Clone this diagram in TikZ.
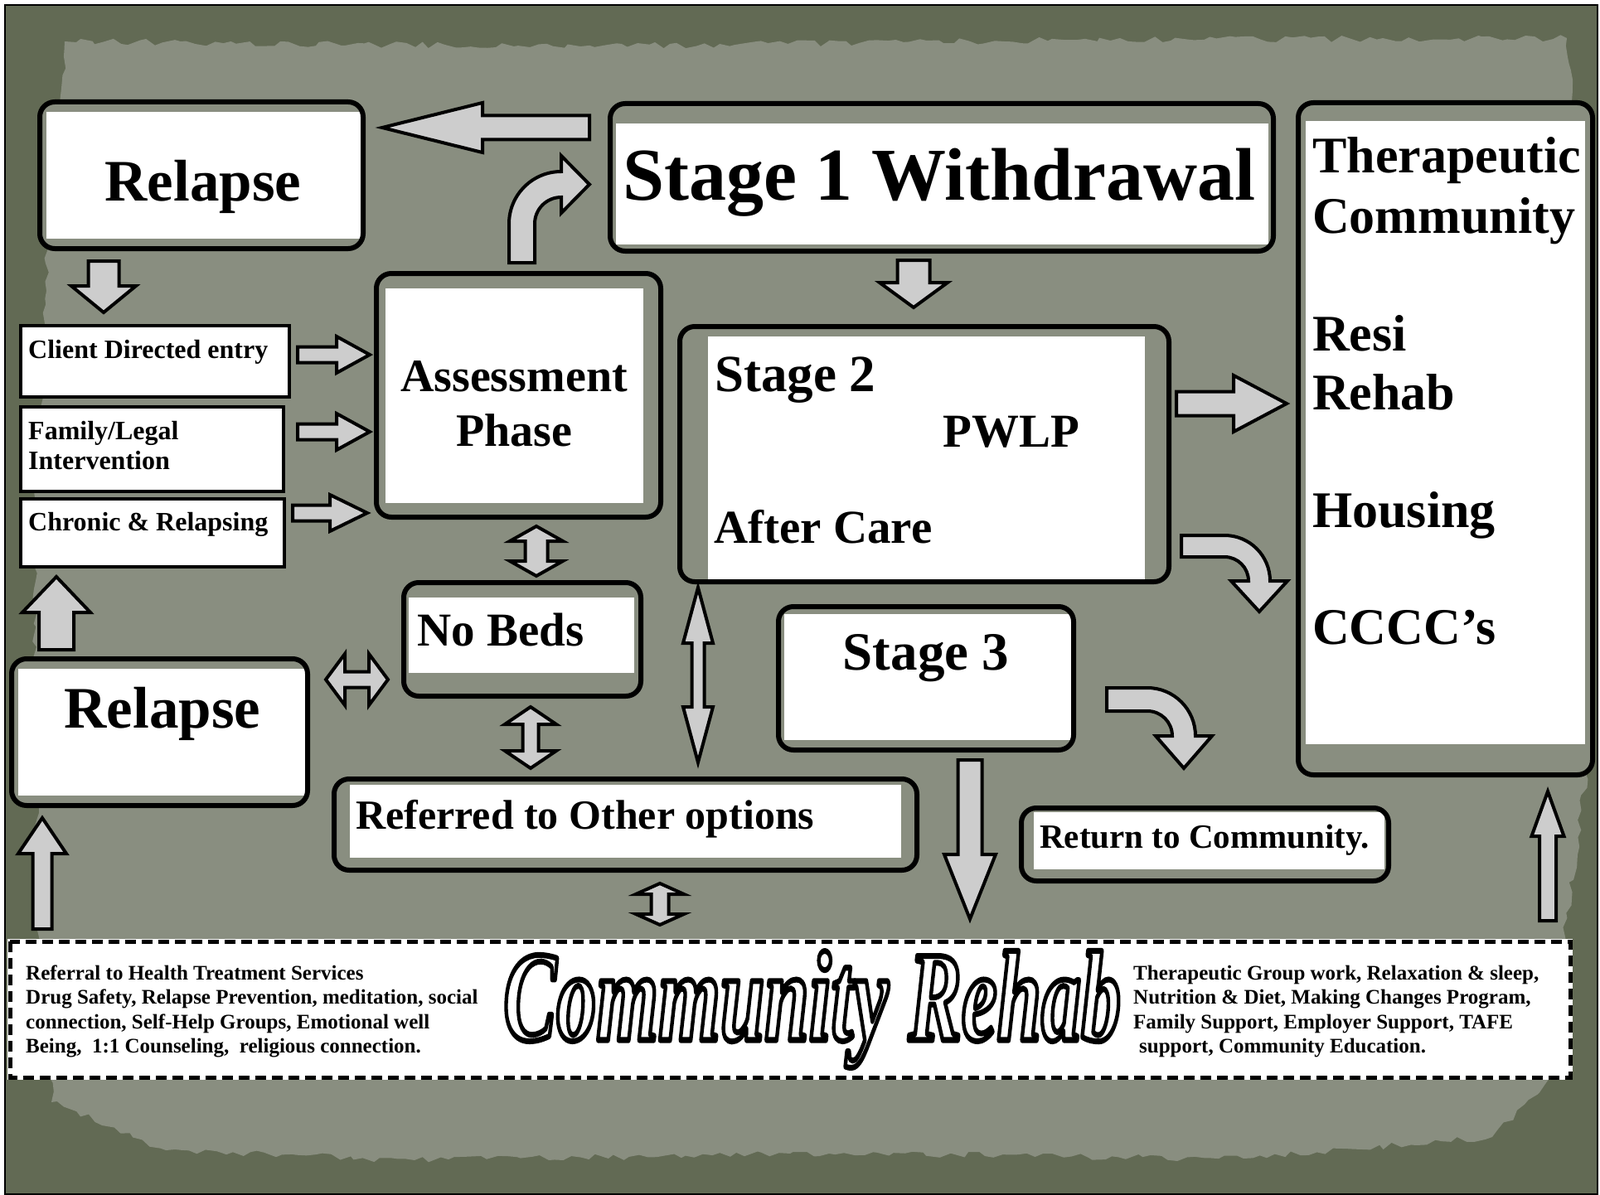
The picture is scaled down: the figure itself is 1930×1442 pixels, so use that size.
\documentclass[tikz,border=0pt]{standalone}
\usepackage{fontspec}
\setmainfont{Liberation Serif}
\usetikzlibrary{calc,decorations.pathmorphing}

\definecolor{edgeolive}{RGB}{98,106,84}
\definecolor{paper}{RGB}{137,142,128}
\definecolor{arrowgray}{RGB}{205,205,205}

\tikzset{
  boxline/.style={draw=black, line width=6pt, rounded corners=18pt},
  entrybox/.style={draw=black, line width=4.5pt, fill=white},
  fatarrow/.style={draw=black, line width=4pt, fill=arrowgray, line join=miter},
  lbl/.style={inner sep=0pt, font=\bfseries},
}

\newcommand{\fsize}[1]{\fontsize{#1}{#1}\selectfont}

% white letters with a black rim (fill and stroke text mode)
\newcommand{\rimtext}[1]{%
  {\color{white}\special{pdf:literal direct 0 0 0 RG 7 w 1 j 2 Tr}#1\special{pdf:literal direct 0 Tr}}}

% rounded panel: outer corners, white inner corners
\newcommand{\panel}[4]{%
  \fill[paper, rounded corners=18pt] (#1) rectangle (#2);
  \fill[white] (#3) rectangle (#4);
  \draw[boxline] (#1) rectangle (#2);}

% block arrow: tail, tip, shaft half, head half, head length
\newcommand{\blockarrow}[5]{%
  \draw[fatarrow] ($(#1)!#3pt!90:(#2)$)
    -- ($($(#2)!#5pt!(#1)$)!#3pt!-90:(#1)$)
    -- ($($(#2)!#5pt!(#1)$)!#4pt!-90:(#1)$)
    -- (#2)
    -- ($($(#2)!#5pt!(#1)$)!#4pt!90:(#1)$)
    -- ($($(#2)!#5pt!(#1)$)!#3pt!90:(#1)$)
    -- ($(#1)!#3pt!-90:(#2)$) -- cycle;}

% double block arrow: tip, tip, shaft half, head half, head length
\newcommand{\dblarrow}[5]{%
  \draw[fatarrow] (#1)
    -- ($($(#1)!#5pt!(#2)$)!#4pt!90:(#2)$)
    -- ($($(#1)!#5pt!(#2)$)!#3pt!90:(#2)$)
    -- ($($(#2)!#5pt!(#1)$)!#3pt!-90:(#1)$)
    -- ($($(#2)!#5pt!(#1)$)!#4pt!-90:(#1)$)
    -- (#2)
    -- ($($(#2)!#5pt!(#1)$)!#4pt!90:(#1)$)
    -- ($($(#2)!#5pt!(#1)$)!#3pt!90:(#1)$)
    -- ($($(#1)!#5pt!(#2)$)!#3pt!-90:(#2)$)
    -- ($($(#1)!#5pt!(#2)$)!#4pt!-90:(#2)$) -- cycle;}

\begin{document}
\begin{tikzpicture}[x=1pt, y=-1pt]
  \useasboundingbox (0,0) rectangle (1930,1442);

  % the torn paper background
  \fill[white] (0,0) rectangle (1930,1442);
  \filldraw[fill=edgeolive, draw=black, line width=1.5pt] (6,6) rectangle (1927,1441);
  \fill[paper, decorate, decoration={random steps, segment length=10pt, amplitude=4pt}]
    (78,50) -- (700,56) -- (1300,48) -- (1890,46) -- (1912,300) -- (1918,900)
    -- (1885,1150) -- (1872,1300) -- (1800,1372) -- (1500,1398) -- (1000,1392)
    -- (500,1400) -- (200,1388) -- (62,1330) -- (45,1100) -- (42,600) -- (58,300) -- cycle;

  % panels
  \panel{48,123}{438,300}{56,135}{436,288}
  \panel{736,125}{1536,303}{743,149}{1530,295}
  \panel{454,330}{797,624}{465,348}{776,607}
  \panel{820,394}{1410,702}{854,406}{1381,699}
  \panel{1566,124}{1921,935}{1575,146}{1912,898}
  \panel{487,703}{773,840}{493,721}{765,812}
  \panel{14,795}{371,972}{22,807}{368,960}
  \panel{939,732}{1295,905}{946,741}{1292,893}
  \panel{403,940}{1106,1050}{422,947}{1087,1035}
  \panel{1232,975}{1675,1063}{1247,980}{1670,1049}

  % entry boxes
  \draw[entrybox] (25,393) rectangle (349,479);
  \draw[entrybox] (25,491) rectangle (342,593);
  \draw[entrybox] (25,602) rectangle (343,684);

  % arrow ends
  \coordinate (s1-tail) at (711,154);      \coordinate (rel1-tip) at (461,154);
  \coordinate (rel1-tail) at (125,315);    \coordinate (entry-tip) at (125,377);
  \coordinate (client-tail) at (359,428);  \coordinate (client-tip) at (446,428);
  \coordinate (family-tail) at (359,521);  \coordinate (family-tip) at (446,521);
  \coordinate (chronic-tail) at (353,619); \coordinate (chronic-tip) at (443,619);
  \coordinate (rel2-tail) at (68,784);     \coordinate (rel2-tip) at (68,696);
  \coordinate (rel2-l) at (393,820);       \coordinate (beds-l) at (468,820);
  \coordinate (assess-b) at (647,635);     \coordinate (beds-t) at (647,695);
  \coordinate (beds-b) at (640,853);       \coordinate (ref-t) at (640,927);
  \coordinate (stage2-b) at (842,709);     \coordinate (ref-t2) at (842,920);
  \coordinate (ref-b) at (796,1066);       \coordinate (banner-t) at (796,1116);
  \coordinate (s1-b) at (1102,314);        \coordinate (s2-t) at (1102,371);
  \coordinate (s2-r) at (1419,487);        \coordinate (tc-l) at (1552,487);
  \coordinate (s3-b) at (1170,917);        \coordinate (banner-s3) at (1170,1109);
  \coordinate (banner-tc) at (1867,1111);  \coordinate (tc-b) at (1867,955);
  \coordinate (banner-rel) at (51,1121);   \coordinate (rel2-b) at (51,987);

  % straight arrows
  \blockarrow{s1-tail}{rel1-tip}{14.5}{30}{121}
  \blockarrow{rel1-tail}{entry-tip}{18.5}{39}{32}
  \blockarrow{client-tail}{client-tip}{9.5}{22}{40}
  \blockarrow{family-tail}{family-tip}{9.5}{22}{40}
  \blockarrow{chronic-tail}{chronic-tip}{9.5}{22}{45}
  \blockarrow{rel2-tail}{rel2-tip}{21}{41}{43}
  \dblarrow{rel2-l}{beds-l}{9.5}{31}{23}
  \dblarrow{assess-b}{beds-t}{13.5}{32}{18}
  \dblarrow{beds-b}{ref-t}{9.5}{31}{21}
  \dblarrow{stage2-b}{ref-t2}{7.5}{18}{67}
  \dblarrow{ref-b}{banner-t}{10.5}{29}{13}
  \blockarrow{s1-b}{s2-t}{19.5}{41}{30}
  \blockarrow{s2-r}{tc-l}{14.5}{34}{64}
  \blockarrow{s3-b}{banner-s3}{14.5}{31}{78}
  \blockarrow{banner-tc}{tc-b}{10}{19.5}{54}
  \blockarrow{banner-rel}{rel2-b}{11.5}{29}{43}

  % bent arrows
  \draw[fatarrow] (614,317) -- (614,270) .. controls (614,235.2) and (642.2,207) .. (677,207)
    -- (677,188) -- (711,222.5) -- (677,257) -- (677,238)
    .. controls (659.3,238) and (645,252.3) .. (645,270) -- (645,317) -- cycle;
  \draw[fatarrow] (1425,646) -- (1477,646) .. controls (1507.4,646) and (1532,670.6) .. (1532,701)
    -- (1553,701) -- (1519,738) -- (1485,701) -- (1506,701)
    .. controls (1506,685) and (1493,672) .. (1477,672) -- (1425,672) -- cycle;
  \draw[fatarrow] (1335,830) -- (1384,830) .. controls (1416,830) and (1442,856) .. (1442,888)
    -- (1462,888) -- (1428,927) -- (1394,888) -- (1414,888)
    .. controls (1414,871.4) and (1400.6,858) .. (1384,858) -- (1335,858) -- cycle;

  % labels
  \node[lbl, anchor=base] (relapseA) at (245,242) {\fsize{71}Relapse};
  \node[lbl, anchor=base west] (stage1) at (751,241) {\fsize{90}Stage 1 Withdrawal};
  \node[lbl, anchor=base west] (client) at (34,432) {\fsize{32}Client Directed entry};
  \node[lbl, anchor=base west] (familyA) at (34,530) {\fsize{32}Family/Legal};
  \node[lbl, anchor=base west] (familyB) at (34,566) {\fsize{32}Intervention};
  \node[lbl, anchor=base west] (chronic) at (34,640) {\fsize{32}Chronic \& Relapsing};
  \node[lbl, anchor=base] (assessA) at (620,472) {\fsize{56}Assessment};
  \node[lbl, anchor=base] (assessB) at (620,538) {\fsize{56}Phase};
  \node[lbl, anchor=base west] (stage2) at (862,472) {\fsize{63}Stage 2};
  \node[lbl, anchor=base west] (pwlp) at (1137,539) {\fsize{57}PWLP};
  \node[lbl, anchor=base west] (aftercare) at (861,655) {\fsize{57}After Care};
  \node[lbl, anchor=base] (stage3) at (1117,808) {\fsize{65}Stage 3};
  \node[lbl, anchor=base west] (nobeds) at (503,779) {\fsize{57}No Beds};
  \node[lbl, anchor=base] (relapseB) at (196,878) {\fsize{71}Relapse};
  \node[lbl, anchor=base west] (referred) at (429,1000) {\fsize{50}Referred to Other options};
  \node[lbl, anchor=base west] (return) at (1254,1023) {\fsize{41}Return to Community.};
  \node[lbl, anchor=base west] (tcA) at (1583,209) {\fsize{62}Therapeutic};
  \node[lbl, anchor=base west] (tcB) at (1583,281) {\fsize{62}Community};
  \node[lbl, anchor=base west] (tcC) at (1583,423) {\fsize{62}Resi};
  \node[lbl, anchor=base west] (tcD) at (1583,494) {\fsize{62}Rehab};
  \node[lbl, anchor=base west] (tcE) at (1583,636) {\fsize{62}Housing};
  \node[lbl, anchor=base west] (tcF) at (1583,777) {\fsize{62}CCCC’s};

  % banner
  \fill[white] (9,1133) rectangle (1897,1303);
  \draw[black, line width=5pt, dash pattern=on 13pt off 7pt] (12,1136) rectangle (1894,1300);
  \node[lbl, anchor=base west] (svcA) at (31,1182) {\fsize{25}Referral to Health Treatment Services};
  \node[lbl, anchor=base west] (svcB) at (31,1211) {\fsize{25}Drug Safety, Relapse Prevention, meditation, social};
  \node[lbl, anchor=base west] (svcC) at (31,1241) {\fsize{25}connection, Self-Help Groups, Emotional well};
  \node[lbl, anchor=base west] (svcD) at (31,1270) {\fsize{25}Being, ~1:1 Counseling, ~religious connection.};
  \node[lbl, anchor=base west] (grpA) at (1367,1182) {\fsize{25}Therapeutic Group work, Relaxation \& sleep,};
  \node[lbl, anchor=base west] (grpB) at (1367,1211) {\fsize{25}Nutrition \& Diet, Making Changes Program,};
  \node[lbl, anchor=base west] (grpC) at (1367,1241) {\fsize{25}Family Support, Employer Support, TAFE};
  \node[lbl, anchor=base west] (grpD) at (1374,1270) {\fsize{25}support, Community Education.};

  % outlined title
  \node[lbl, anchor=base west] (title) at (607,1255)
    {\scalebox{0.62}[1]{\fsize{155}\itshape\rimtext{Community Rehab}}};
\end{tikzpicture}
\end{document}
